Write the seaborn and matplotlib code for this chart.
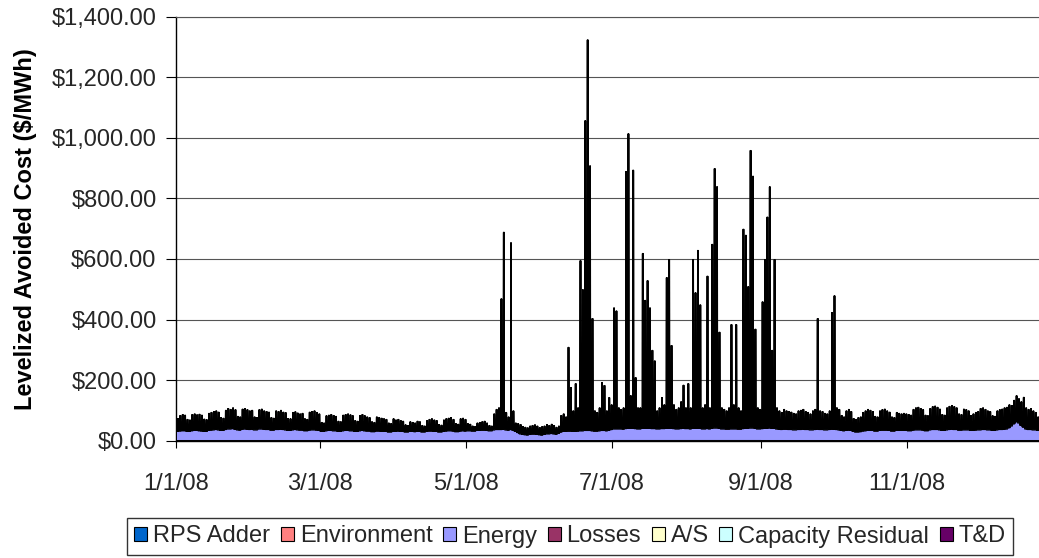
import numpy as np
import pandas as pd
import matplotlib
matplotlib.use("Agg")
import matplotlib.pyplot as plt
import matplotlib.dates as mdates
from matplotlib.patches import Patch
from matplotlib.ticker import FuncFormatter
import seaborn as sns

# ---------------------------------------------------------------------------
# Components of the levelized avoided cost, stacked bottom to top
# ---------------------------------------------------------------------------
series_names = ["RPS Adder", "Environment", "Energy", "Losses", "A/S",
                "Capacity Residual", "T&D"]
series_colors = ["#0066CC", "#FF8080", "#9999FF", "#993366", "#FFFFCC",
                 "#CCFFFF", "#660066"]

# Daily peak-hour total avoided cost ($/MWh), one list per month of 2008
peak_jan = [75, 85, 88, 86, 72, 70, 88, 90, 87, 89, 86, 73, 71, 92, 95, 98,
            100, 96, 78, 76, 102, 108, 105, 110, 104, 82, 80, 106, 108, 104, 100]
peak_feb = [102, 80, 78, 104, 106, 100, 98, 96, 78, 76, 100, 98, 102, 96, 94,
            75, 74, 95, 97, 93, 90, 92, 74, 72, 96, 98, 100, 95, 90]
peak_mar = [62, 60, 84, 86, 88, 85, 82, 66, 64, 86, 88, 90, 87, 84, 68, 66,
            85, 88, 84, 80, 78, 64, 62, 80, 78, 76, 74, 72, 60, 58, 74]
peak_apr = [70, 72, 68, 66, 54, 52, 64, 62, 60, 66, 64, 52, 50, 68, 72, 74,
            70, 68, 55, 53, 70, 74, 76, 78, 72, 58, 56, 74, 76, 72]
peak_may = [58, 56, 50, 48, 60, 62, 64, 66, 60, 52, 50, 90, 105, 110, 470, 690,
            95, 80, 655, 100, 60, 58, 55, 48, 46, 44, 50, 52, 54, 50, 45]
peak_jun = [48, 50, 55, 52, 56, 52, 46, 50, 85, 90, 80, 310, 177, 100, 190,
            110, 596, 500, 1058, 1325, 909, 405, 100, 95, 110, 194, 184, 100,
            144, 120]
peak_jul = [440, 430, 110, 105, 110, 890, 1015, 150, 895, 210, 110, 110, 620,
            465, 530, 440, 300, 265, 100, 110, 144, 120, 540, 600, 316, 120,
            105, 110, 130, 185, 110]
peak_aug = [190, 110, 600, 490, 630, 450, 110, 120, 545, 110, 650, 900, 840,
            360, 110, 105, 100, 110, 385, 120, 385, 110, 100, 700, 680, 510,
            960, 875, 370, 110, 105]
peak_sep = [460, 600, 740, 840, 300, 600, 110, 100, 95, 105, 100, 98, 96, 92,
            90, 100, 102, 105, 98, 95, 90, 100, 105, 405, 100, 98, 92, 90, 100,
            425]
peak_oct = [480, 110, 105, 85, 80, 100, 105, 98, 75, 72, 78, 80, 95, 100, 105,
            102, 98, 82, 80, 100, 104, 106, 100, 96, 80, 78, 95, 92, 90, 92, 90]
peak_nov = [88, 86, 105, 110, 112, 108, 104, 86, 84, 108, 114, 116, 112, 106,
            88, 86, 110, 115, 118, 114, 110, 90, 88, 106, 104, 100, 85, 90, 95,
            98]
peak_dec = [108, 110, 105, 100, 98, 84, 82, 100, 104, 106, 110, 112, 120, 118,
            135, 150, 140, 130, 145, 110, 105, 108, 100, 95, 80, 85, 90, 92, 88,
            80, 78]

# Daily energy component ($/MWh)
energy_jan = [30, 31, 32, 32, 30, 30, 32, 33, 33, 32, 31, 30, 30, 33, 34, 35,
              36, 35, 33, 33, 36, 38, 38, 39, 37, 35, 34, 37, 38, 37, 36]
energy_feb = [37, 35, 35, 38, 38, 37, 36, 36, 34, 34, 36, 36, 37, 36, 35, 33,
              33, 35, 36, 35, 34, 34, 32, 32, 34, 35, 35, 34, 33]
energy_mar = [30, 30, 32, 33, 33, 32, 32, 30, 30, 32, 33, 33, 32, 32, 30, 30,
              32, 33, 32, 31, 31, 29, 29, 31, 31, 30, 30, 30, 28, 28, 30]
energy_apr = [30, 31, 30, 30, 28, 28, 30, 30, 29, 30, 30, 28, 28, 30, 31, 31,
              30, 30, 28, 28, 30, 31, 32, 32, 31, 29, 29, 31, 32, 31]
energy_may = [32, 32, 31, 31, 33, 33, 34, 34, 33, 32, 32, 35, 36, 36, 36, 37,
              35, 34, 36, 34, 30, 26, 22, 20, 19, 18, 20, 21, 21, 20, 19]
energy_jun = [18, 20, 22, 22, 23, 22, 21, 24, 28, 30, 30, 31, 31, 30, 30, 31,
              32, 32, 33, 33, 33, 32, 31, 31, 32, 33, 33, 32, 34, 36]
energy_jul = [38, 38, 38, 38, 37, 39, 40, 40, 40, 39, 38, 38, 40, 40, 40, 40,
              39, 39, 38, 38, 39, 39, 40, 40, 40, 39, 38, 38, 39, 40, 39]
energy_aug = [39, 38, 40, 40, 40, 40, 38, 38, 39, 38, 40, 41, 41, 40, 38, 38,
              37, 37, 38, 38, 38, 37, 37, 39, 40, 40, 41, 41, 40, 38, 38]
energy_sep = [39, 40, 40, 41, 40, 40, 38, 37, 36, 37, 37, 36, 36, 35, 35, 36,
              36, 37, 36, 36, 35, 35, 36, 37, 36, 36, 35, 35, 36, 37]
energy_oct = [37, 36, 35, 33, 32, 33, 34, 33, 30, 28, 28, 29, 31, 32, 33, 33,
              33, 31, 31, 33, 34, 34, 34, 33, 31, 31, 33, 33, 33, 33, 33]
energy_nov = [32, 32, 34, 35, 35, 35, 34, 32, 32, 35, 36, 36, 36, 35, 33, 33,
              35, 36, 37, 36, 36, 34, 34, 35, 35, 35, 33, 33, 34, 35]
energy_dec = [35, 36, 36, 35, 35, 33, 33, 35, 36, 36, 37, 38, 42, 48, 55, 62,
              58, 50, 44, 38, 36, 36, 35, 35, 33, 33, 34, 35, 35, 33, 33]

# Smaller components, monthly averages ($/MWh)
rps_adder = [0.6, 0.6, 0.6, 0.6, 0.6, 0.6, 0.6, 0.6, 0.6, 0.6, 0.6, 0.6]
environment = [1.8, 1.8, 1.7, 1.7, 1.7, 1.6, 1.9, 1.9, 1.8, 1.7, 1.8, 1.8]
losses = [2.0, 2.0, 1.8, 1.8, 1.8, 1.6, 2.2, 2.2, 2.0, 1.9, 2.0, 2.0]
ancillary = [0.6, 0.6, 0.5, 0.5, 0.5, 0.5, 0.7, 0.7, 0.6, 0.6, 0.6, 0.6]
capacity_offpeak = [1.5, 1.5, 1.5, 1.5, 1.5, 1.5, 1.5, 1.5, 1.5, 1.5, 1.5, 1.5]
t_and_d = [1.2, 1.2, 1.2, 1.2, 1.2, 1.2, 1.2, 1.2, 1.2, 1.2, 1.2, 1.2]

tick_dates = ["2008-01-01", "2008-03-01", "2008-05-01", "2008-07-01",
              "2008-09-01", "2008-11-01"]
tick_labels = ["1/1/08", "3/1/08", "5/1/08", "7/1/08", "9/1/08", "11/1/08"]
y_ticks = [0, 200, 400, 600, 800, 1000, 1200, 1400]

# ---------------------------------------------------------------------------
# Assemble the stacked layers on an intra-day grid (overnight / peak block)
# ---------------------------------------------------------------------------
days = pd.date_range("2008-01-01", "2008-12-31", freq="D")
month_idx = days.month.values - 1

peak = np.concatenate([peak_jan, peak_feb, peak_mar, peak_apr, peak_may,
                       peak_jun, peak_jul, peak_aug, peak_sep, peak_oct,
                       peak_nov, peak_dec]).astype(float)
energy = np.concatenate([energy_jan, energy_feb, energy_mar, energy_apr,
                         energy_may, energy_jun, energy_jul, energy_aug,
                         energy_sep, energy_oct, energy_nov,
                         energy_dec]).astype(float)


def by_day(monthly):
    return np.asarray(monthly, dtype=float)[month_idx]


rps_d = by_day(rps_adder)
env_d = by_day(environment)
loss_d = by_day(losses)
as_d = by_day(ancillary)
td_d = by_day(t_and_d)
cap_off_d = by_day(capacity_offpeak)
cap_peak_d = peak - (rps_d + env_d + energy + loss_d + as_d + td_d)

# sample points within each day: night, ramp, peak block, back to night
day_frac = np.array([0.0, 0.38, 0.43, 0.77, 0.82])
on_peak = np.array([False, False, True, True, False])

x0 = mdates.date2num(days.to_pydatetime())
t = (x0[:, None] + day_frac[None, :]).ravel()


def spread(v):
    return np.repeat(v[:, None], len(day_frac), axis=1).ravel()


cap = np.where(on_peak[None, :], cap_peak_d[:, None], cap_off_d[:, None]).ravel()
layers = [spread(rps_d), spread(env_d), spread(energy), spread(loss_d),
          spread(as_d), cap, spread(td_d)]

# close the year at midnight of Jan 1 2009
t = np.append(t, x0[-1] + 1.0)
layers = [np.append(l, l[-1]) for l in layers]
layers[5][-1] = cap_off_d[-1]

# ---------------------------------------------------------------------------
# Plot
# ---------------------------------------------------------------------------
sns.set_theme(style="white")
plt.rcParams["font.family"] = ["Liberation Sans", "DejaVu Sans"]

W, H = 1039, 558
fig = plt.figure(figsize=(W / 100, H / 100), dpi=100)
fig.patch.set_facecolor("white")
ax = fig.add_axes([176 / W, 1 - 440.7 / H, 877 / W, 424 / H])

ax.stackplot(t, *layers, colors=series_colors, edgecolor="black",
             linewidth=0.7, zorder=3)

ax.set_xlim(x0[0], x0[-1] + 1.0)
ax.set_ylim(0, 1400)
ax.set_yticks(y_ticks)
ax.yaxis.set_major_formatter(FuncFormatter(lambda v, p: f"${v:,.2f}"))
ax.set_xticks(mdates.date2num(pd.to_datetime(tick_dates).to_pydatetime()))
ax.set_xticklabels(tick_labels)

ax.tick_params(axis="x", direction="out", length=5, width=0.8,
               color="black", pad=18, labelsize=17, bottom=True)
ax.tick_params(axis="y", direction="out", length=7, width=0.8,
               color="black", pad=7, labelsize=17, left=True)

ax.set_axisbelow(True)
ax.yaxis.grid(True, color="#555555", linewidth=0.8)
ax.xaxis.grid(False)

sns.despine(ax=ax, top=False, right=True)
for side in ("left", "bottom"):
    ax.spines[side].set_color("black")
    ax.spines[side].set_linewidth(1.0)
ax.spines["top"].set_color("#555555")
ax.spines["top"].set_linewidth(0.8)

ax.set_ylabel("Levelized Avoided Cost ($/MWh)", fontsize=17,
              fontweight="bold", color="black")
ax.yaxis.set_label_coords(-0.158, 0.5)

handles = [Patch(facecolor=c, edgecolor="black", linewidth=0.8)
           for c in series_colors]
leg = fig.legend(handles, series_names, loc="center",
                 bbox_to_anchor=(570 / W, 1 - 536.5 / H), ncol=7,
                 fontsize=17, frameon=True, fancybox=False, shadow=False,
                 handlelength=0.55, handleheight=0.55, handletextpad=0.25,
                 columnspacing=0.45, borderpad=0.3, borderaxespad=0)
leg.get_frame().set_edgecolor("black")
leg.get_frame().set_linewidth(1.0)
leg.get_frame().set_boxstyle("square", pad=0)

fig.savefig("out.png", dpi=100, facecolor="white")
